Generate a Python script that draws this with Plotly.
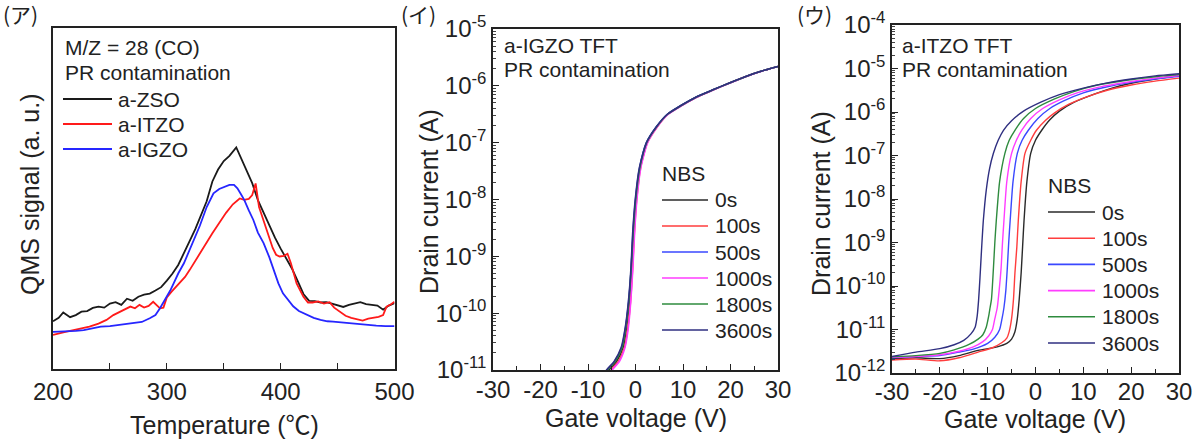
import plotly.graph_objects as go

# ---------------- data ----------------
# (ア) QMS signal, M/Z = 28 (arbitrary units)
zso_T = [200,205,209,215,220,225,230,235,240,245,250,255,260,265,270,275,280,285,290,295,300,
         305,310,315,320,325,330,335,340,345,350,355,361,365,370,375,380,385,390,395,400,405,410,
         415,420,425,430,435,440,445,450,455,460,465,470,475,480,485,490,495,500]
zso_S = [14.0,15.0,16.6,15.2,15.8,16.8,17.0,17.9,18.3,18.0,19.2,19.6,18.8,20.6,20.0,21.2,21.8,22.1,23.0,24.0,25.9,
         28.0,30.5,33.8,37.5,41.0,45.0,49.2,55.0,58.5,61.0,62.5,65.0,62.0,58.4,54.5,49.5,45.7,42.0,38.5,35.3,32.3,29.4,
         25.8,22.0,20.0,19.9,19.5,19.6,19.2,18.6,18.2,18.8,19.3,19.6,19.0,18.9,18.6,17.4,18.6,19.3]

itzo_T = [200,205,210,218,225,232,240,247,253,259,264,268,272,276,280,284,288,291,294,297,
          300,304,308,312,316,320,325,330,335,340,346,352,358,364,368,372,375,378,381,385,
          390,393,396,399,403,406,409,414,420,424,428,433,438,443,447,452,457,462,467,472,
          477,481,486,490,493,497,500]
itzo_S = [10.0,10.3,10.8,11.4,11.8,12.4,13.3,14.4,15.8,16.8,17.5,18.3,17.8,18.8,18.0,18.5,19.7,18.6,17.8,18.0,
          21.0,22.6,24.1,25.5,27.0,29.0,31.8,34.5,37.2,39.8,42.8,45.8,48.3,50.0,49.6,49.9,51.0,54.4,47.5,43.7,
          38.5,35.5,33.5,33.0,33.2,33.8,31.0,25.1,21.2,19.5,19.5,19.8,19.2,19.6,18.0,16.8,15.6,15.0,14.6,14.2,
          14.8,15.0,15.3,15.8,18.3,19.0,19.7]

igzo_T = [200,210,220,227,235,242,250,258,265,271,278,285,290,294,297,300,303,306,310,315,
          320,324,329,335,341,346,350,355,359,362,365,368,372,376,380,385,390,394,398,402,
          407,411,416,423,429,435,441,446,452,461,468,476,484,492,500]
igzo_S = [10.9,11.0,11.2,11.4,11.9,12.4,12.6,12.9,13.2,13.4,13.8,14.9,15.8,17.8,19.4,21.2,23.0,25.1,28.0,31.0,
          35.0,37.8,42.0,47.5,51.5,52.8,53.3,54.0,54.0,53.0,51.3,49.6,46.5,43.7,40.0,36.9,32.8,29.0,25.1,22.2,
          20.0,18.4,17.0,15.8,15.0,14.4,14.0,13.9,13.7,13.4,13.2,12.9,12.7,12.6,12.6]

qms_names = ["a-ZSO", "a-ITZO", "a-IGZO"]
qms_colors = ["#1a1a1a", "#ff1a1a", "#2626ff"]

# (イ) a-IGZO TFT transfer curves: log10 drain current, gate voltage per stress time
igzo_logI = [-11.2,-11.0,-10.85,-10.6,-10.25,-9.8,-9.2,-8.6,-8.0,-7.45,-7.0,-6.72,-6.5,-6.36,-6.2,-6.07,-5.95,-5.83,-5.74,-5.66]
igzo_V_0s    = [-7.0,-5.6,-4.0,-2.6,-1.9,-1.3,-0.8,-0.45,0.1,0.95,2.4,4.5,6.8,9.4,12.8,16.4,19.8,23.4,26.6,30.0]
igzo_V_100s  = [-6.5,-5.1,-3.6,-2.3,-1.6,-1.05,-0.6,-0.25,0.25,1.05,2.5,4.6,6.8,9.4,12.8,16.4,19.8,23.4,26.6,30.0]
igzo_V_500s  = [-7.4,-6.0,-4.4,-2.9,-2.1,-1.45,-0.9,-0.55,0.0,0.85,2.3,4.4,6.7,9.3,12.7,16.3,19.8,23.4,26.6,30.0]
igzo_V_1000s = [-6.3,-4.9,-3.4,-2.2,-1.5,-1.0,-0.55,-0.2,0.3,1.1,2.55,4.6,6.9,9.5,12.9,16.5,19.9,23.5,26.7,30.0]
igzo_V_1800s = [-7.3,-5.9,-4.3,-2.8,-2.05,-1.4,-0.9,-0.5,0.05,0.9,2.35,4.45,6.75,9.35,12.75,16.35,19.8,23.4,26.6,30.0]
igzo_V_3600s = [-7.5,-6.1,-4.5,-3.0,-2.15,-1.5,-0.95,-0.6,-0.05,0.8,2.3,4.4,6.7,9.3,12.7,16.3,19.75,23.35,26.6,30.0]

# (ウ) a-ITZO TFT transfer curves
itzo_V_0s = [-30,-25,-20,-16,-12,-8,-6,-5,-4.3,-3.8,-3.4,-3.0,-2.7,-2.4,-1.8,-1.0,0.0,1.3,3,5,8,12,16,20,25,30]
itzo_L_0s = [-11.67,-11.65,-11.67,-11.60,-11.48,-11.40,-11.32,-11.22,-11.05,-10.75,-10.3,-9.7,-9.1,-8.5,-7.6,-6.95,-6.65,-6.42,-6.18,-5.98,-5.78,-5.6,-5.45,-5.34,-5.24,-5.16]
itzo_V_100s = [-30,-25,-20,-16,-12,-9,-7,-6,-5.5,-5.0,-4.6,-4.3,-3.9,-3.6,-3.0,-2.2,-1.0,0.2,2,4,7,11,15,20,25,30]
itzo_L_100s = [-11.70,-11.68,-11.72,-11.65,-11.52,-11.42,-11.30,-11.20,-11.05,-10.75,-10.3,-9.7,-9.1,-8.5,-7.6,-6.95,-6.65,-6.42,-6.2,-6.02,-5.82,-5.64,-5.50,-5.38,-5.29,-5.22]
itzo_V_500s = [-30,-25,-20,-16,-13,-10,-8.5,-7.5,-7.0,-6.6,-6.2,-5.9,-5.6,-5.3,-4.7,-3.8,-2.8,-1.5,0.5,3,6,10,15,20,25,30]
itzo_L_500s = [-11.65,-11.62,-11.60,-11.52,-11.45,-11.32,-11.18,-11.0,-10.75,-10.5,-10.1,-9.6,-9.0,-8.5,-7.6,-6.95,-6.65,-6.42,-6.15,-5.92,-5.74,-5.56,-5.42,-5.32,-5.24,-5.18]
itzo_V_1000s = [-30,-25,-20,-16,-13,-11,-9.8,-9.0,-8.5,-8.0,-7.6,-7.2,-6.9,-6.6,-6.0,-5.0,-4.0,-2.9,-1,1.5,5,9,14,20,25,30]
itzo_L_1000s = [-11.64,-11.62,-11.58,-11.50,-11.40,-11.28,-11.15,-11.0,-10.75,-10.5,-10.1,-9.6,-9.0,-8.5,-7.6,-6.95,-6.65,-6.42,-6.15,-5.92,-5.72,-5.55,-5.41,-5.30,-5.22,-5.16]
itzo_V_1800s = [-30,-25,-20,-17,-14,-12,-11,-10.3,-9.8,-9.5,-9.2,-8.8,-8.5,-8.2,-7.5,-6.4,-5.5,-4.3,-2.5,0,4,8,13,19,25,30]
itzo_L_1800s = [-11.63,-11.60,-11.55,-11.47,-11.35,-11.22,-11.12,-10.95,-10.7,-10.5,-10.3,-9.6,-9.0,-8.5,-7.6,-6.95,-6.65,-6.42,-6.15,-5.92,-5.70,-5.53,-5.38,-5.27,-5.19,-5.14]
itzo_V_3600s = [-30,-25,-20,-17,-15,-13.5,-12.6,-12.2,-11.9,-11.6,-11.3,-10.9,-10.3,-9.6,-8.8,-7.8,-6.7,-5,-2.5,1,5,10,15,20,25,30]
itzo_L_3600s = [-11.62,-11.52,-11.44,-11.35,-11.25,-11.10,-10.94,-10.7,-10.33,-9.8,-9.2,-8.49,-7.8,-7.3,-6.95,-6.65,-6.42,-6.2,-5.98,-5.78,-5.6,-5.45,-5.33,-5.24,-5.17,-5.12]

nbs_names = ["0s", "100s", "500s", "1000s", "1800s", "3600s"]
nbs_colors = ["#2a2a2a", "#ff3d3d", "#3a48ff", "#ff3dff", "#2e8b3e", "#2f2f80"]

igzo_V = [igzo_V_0s, igzo_V_100s, igzo_V_500s, igzo_V_1000s, igzo_V_1800s, igzo_V_3600s]
itzo_V = [itzo_V_0s, itzo_V_100s, itzo_V_500s, itzo_V_1000s, itzo_V_1800s, itzo_V_3600s]
itzo_L = [itzo_L_0s, itzo_L_100s, itzo_L_500s, itzo_L_1000s, itzo_L_1800s, itzo_L_3600s]

temp_ticks = [200, 300, 400, 500]
volt_ticks = [-30, -20, -10, 0, 10, 20, 30]
igzo_exps = [-11, -10, -9, -8, -7, -6, -5]
itzo_exps = [-12, -11, -10, -9, -8, -7, -6, -5, -4]

# ---------------- figure ----------------
W, H = 1200, 443
def px(x): return x / W
def py(y): return 1 - y / H

FONT = "Arial, Liberation Sans, Noto Sans CJK JP, sans-serif"
TXT = "#222222"

fig = go.Figure()

for T, S, n, c in zip([zso_T, itzo_T, igzo_T], [zso_S, itzo_S, igzo_S], qms_names, qms_colors):
    fig.add_trace(go.Scatter(x=T, y=S, mode="lines", name=n, line=dict(color=c, width=1.8),
                             xaxis="x", yaxis="y", showlegend=False))

igzo_I = [10 ** v for v in igzo_logI]
for V, n, c in zip(igzo_V, nbs_names, nbs_colors):
    fig.add_trace(go.Scatter(x=V, y=igzo_I, mode="lines", name=n,
                             line=dict(color=c, width=1.6, shape="spline", smoothing=0.6),
                             xaxis="x2", yaxis="y2", showlegend=False))

for V, L, n, c in zip(itzo_V, itzo_L, nbs_names, nbs_colors):
    fig.add_trace(go.Scatter(x=V, y=[10 ** v for v in L], mode="lines", name=n,
                             line=dict(color=c, width=1.4, shape="spline", smoothing=0.6),
                             xaxis="x3", yaxis="y3", showlegend=False))

axis_common = dict(showline=True, mirror=True, linecolor="#222222", linewidth=1.5,
                   showgrid=False, zeroline=False, ticks="inside", ticklen=6, tickwidth=1.2,
                   tickcolor="#222222", automargin=False,
                   tickfont=dict(family=FONT, size=24, color=TXT))

def log_minor(exps):
    return [k * 10 ** e for e in exps[:-1] for k in range(2, 10)]

def sup_labels(exps):
    return ["10<sup>%d</sup>" % e for e in exps]

fig.update_layout(
    width=W, height=H, margin=dict(l=0, r=0, t=0, b=0, autoexpand=False),
    paper_bgcolor="white", plot_bgcolor="white", showlegend=False,
    font=dict(family=FONT, color=TXT),
    xaxis=dict(axis_common, domain=[px(53), px(394.5)], range=[200, 500], anchor="y",
               tickmode="array", tickvals=temp_ticks, ticktext=[str(t) for t in temp_ticks],
               minor=dict(tickmode="array", tickvals=[250, 350, 450], ticks="inside", ticklen=6,
                          tickcolor="#222222")),
    yaxis=dict(axis_common, domain=[py(369), py(28)], range=[0, 100], anchor="x",
               ticks="", showticklabels=False),
    xaxis2=dict(axis_common, domain=[px(493), px(778)], range=[-30, 30], anchor="y2",
                tickmode="array", tickvals=volt_ticks, ticktext=[str(t) for t in volt_ticks],
                ticklabelstandoff=-3,
                minor=dict(tickmode="array", tickvals=[-25, -15, -5, 5, 15, 25], ticks="inside",
                           ticklen=4, tickcolor="#222222")),
    yaxis2=dict(axis_common, domain=[py(370), py(29)], type="log", range=[-11, -5], anchor="x2",
                tickmode="array", tickvals=[10 ** e for e in igzo_exps], ticktext=sup_labels(igzo_exps),
                minor=dict(tickmode="array", tickvals=log_minor(igzo_exps), ticks="inside",
                           ticklen=3, tickcolor="#444444")),
    xaxis3=dict(axis_common, domain=[px(892), px(1179)], range=[-30, 30], anchor="y3",
                tickmode="array", tickvals=volt_ticks, ticktext=[str(t) for t in volt_ticks],
                ticklabelstandoff=-4,
                minor=dict(tickmode="array", tickvals=[-25, -15, -5, 5, 15, 25], ticks="inside",
                           ticklen=4, tickcolor="#222222")),
    yaxis3=dict(axis_common, domain=[py(373), py(25)], type="log", range=[-12, -4], anchor="x3",
                tickmode="array", tickvals=[10 ** e for e in itzo_exps], ticktext=sup_labels(itzo_exps),
                minor=dict(tickmode="array", tickvals=log_minor(itzo_exps), ticks="inside",
                           ticklen=3, tickcolor="#444444")),
)

ann = []
def text(x, y, s, size=21, xanchor="left", angle=0, family=FONT):
    ann.append(dict(x=px(x), y=py(y), xref="paper", yref="paper", text=s, showarrow=False,
                    xanchor=xanchor, yanchor="middle", textangle=angle,
                    font=dict(family=family, size=size, color=TXT)))

# panel labels
JP = "Noto Sans CJK JP, sans-serif"
text(1, 14, "(ア)", size=21, family=JP)
text(399, 14, "(イ)", size=21, family=JP)
text(795, 14, "(ウ)", size=21, family=JP)

# axis titles
text(224, 425, "Temperature (℃)", size=25, xanchor="center")
text(636, 418, "Gate voltage (V)", size=25, xanchor="center")
text(1035, 419, "Gate voltage (V)", size=25, xanchor="center")
text(30, 195, "QMS signal (a. u.)", size=25, xanchor="center", angle=-90)
text(429, 202, "Drain current (A)", size=25, xanchor="center", angle=-90)
text(821, 204, "Drain current (A)", size=25, xanchor="center", angle=-90)

# panel (ア) header and legend
text(63, 48, "M/Z = 28 (CO)")
text(63, 72, "PR contamination")
shapes = []
for i, (n, c) in enumerate(zip(qms_names, qms_colors)):
    yy = 99 + 25 * i
    shapes.append(dict(type="line", xref="paper", yref="paper", x0=px(63), x1=px(112),
                       y0=py(yy), y1=py(yy), line=dict(color=c, width=1.8)))
    text(116, yy, n)

# panel (イ)
text(502, 45, "a-IGZO TFT")
text(502, 70, "PR contamination")
text(660, 174, "NBS")
for i, (n, c) in enumerate(zip(nbs_names, nbs_colors)):
    yy = 200 + 26 * i
    shapes.append(dict(type="line", xref="paper", yref="paper", x0=px(662), x1=px(708),
                       y0=py(yy), y1=py(yy), line=dict(color=c, width=1.6)))
    text(713, yy, n)

# panel (ウ)
text(900, 45, "a-ITZO TFT")
text(900, 70, "PR contamination")
text(1046, 185, "NBS")
for i, (n, c) in enumerate(zip(nbs_names, nbs_colors)):
    yy = 212 + 26.2 * i
    shapes.append(dict(type="line", xref="paper", yref="paper", x0=px(1048), x1=px(1095),
                       y0=py(yy), y1=py(yy), line=dict(color=c, width=1.6)))
    text(1100, yy, n)

fig.update_layout(annotations=ann, shapes=shapes)
# remove the default 8 px page margin so the figure fills the window exactly
fig.write_html("out.html", config={"displayModeBar": False},
               post_script="document.body.style.margin='0';")
